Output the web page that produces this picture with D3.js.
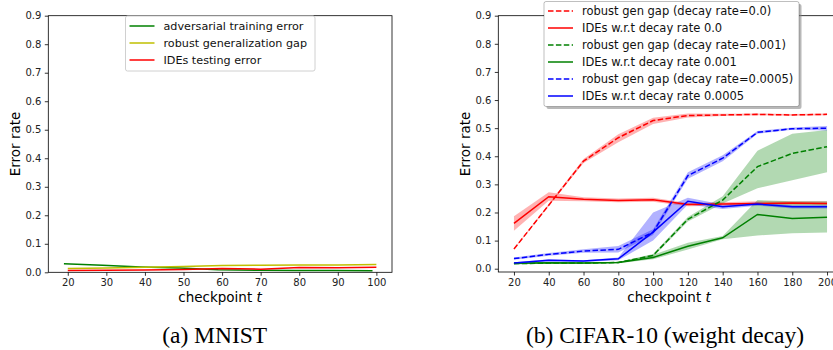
<!DOCTYPE html>
<html>
<head>
<meta charset="utf-8">
<script src="https://cdn.jsdelivr.net/npm/d3@7"></script>
<style>
  body { margin: 0; background: #fff; }
  svg { display: block; }
  .tick text { font-family: "DejaVu Sans", sans-serif; font-size: 10px; fill: #222; }
</style>
</head>
<body>
<svg id="chart" width="833" height="350"></svg>
<script>
// (a) MNIST
const mnistCheckpoints = [20, 30, 40, 50, 60, 70, 80, 90, 100];
const mnistTrainCheckpoints = [19, 29, 39, 49, 59, 69, 79, 89, 99];
const advTrainingError = [0.030, 0.025, 0.019, 0.015, 0.009, 0.007, 0.006, 0.006, 0.005];
const robustGenGap = [0.013, 0.015, 0.018, 0.020, 0.024, 0.025, 0.026, 0.026, 0.027];
const idesTestingError = [0.006, 0.007, 0.008, 0.010, 0.013, 0.011, 0.017, 0.016, 0.018];

// (b) CIFAR-10 weight decay
const cifarCheckpoints = [20, 40, 60, 80, 100, 120, 140, 160, 180, 200];
const gapDecay0 = [0.070, 0.226, 0.383, 0.466, 0.527, 0.545, 0.547, 0.549, 0.547, 0.549];
const gapDecay0Lo = [0.068, 0.222, 0.376, 0.450, 0.515, 0.538, 0.543, 0.546, 0.544, 0.546];
const gapDecay0Hi = [0.072, 0.230, 0.390, 0.478, 0.537, 0.552, 0.551, 0.552, 0.550, 0.552];
const idesDecay0 = [0.161, 0.256, 0.247, 0.243, 0.245, 0.228, 0.230, 0.232, 0.234, 0.232];
const idesDecay0Lo = [0.135, 0.242, 0.240, 0.236, 0.238, 0.222, 0.224, 0.226, 0.228, 0.226];
const idesDecay0Hi = [0.187, 0.272, 0.254, 0.250, 0.252, 0.234, 0.236, 0.240, 0.240, 0.240];
const gapDecay001 = [0.018, 0.020, 0.020, 0.022, 0.047, 0.176, 0.244, 0.363, 0.410, 0.434];
const gapDecay001Lo = [0.016, 0.018, 0.018, 0.020, 0.042, 0.168, 0.232, 0.286, 0.315, 0.343];
const gapDecay001Hi = [0.020, 0.022, 0.022, 0.024, 0.052, 0.184, 0.258, 0.420, 0.480, 0.493];
const idesDecay001 = [0.019, 0.021, 0.020, 0.022, 0.040, 0.080, 0.110, 0.193, 0.179, 0.183];
const idesDecay001Lo = [0.016, 0.018, 0.017, 0.019, 0.034, 0.068, 0.105, 0.118, 0.126, 0.129];
const idesDecay001Hi = [0.022, 0.024, 0.023, 0.025, 0.050, 0.092, 0.116, 0.244, 0.240, 0.240];
const gapDecay0005 = [0.036, 0.051, 0.063, 0.069, 0.130, 0.331, 0.393, 0.485, 0.498, 0.500];
const gapDecay0005Lo = [0.032, 0.046, 0.057, 0.058, 0.120, 0.320, 0.382, 0.480, 0.494, 0.492];
const gapDecay0005Hi = [0.040, 0.056, 0.069, 0.081, 0.140, 0.343, 0.404, 0.490, 0.502, 0.508];
const idesDecay0005 = [0.020, 0.030, 0.027, 0.035, 0.130, 0.240, 0.220, 0.230, 0.220, 0.220];
const idesDecay0005Lo = [0.017, 0.026, 0.024, 0.030, 0.100, 0.228, 0.212, 0.224, 0.214, 0.214];
const idesDecay0005Hi = [0.023, 0.034, 0.030, 0.040, 0.200, 0.252, 0.228, 0.236, 0.226, 0.226];

const yTicks = [0, 0.1, 0.2, 0.3, 0.4, 0.5, 0.6, 0.7, 0.8, 0.9];
const mnistTicks = [20, 30, 40, 50, 60, 70, 80, 90, 100];
const cifarTicks = [20, 40, 60, 80, 100, 120, 140, 160, 180, 200];

const svg = d3.select('#chart');

function drawPanel(opt) {
  const x = d3.scaleLinear().domain(opt.xDomain).range([opt.left, opt.right]);
  const y = d3.scaleLinear().domain(opt.yDomain).range([opt.bottom, opt.top]);
  const g = svg.append('g');

  const clipId = 'clip-' + opt.name;
  g.append('clipPath').attr('id', clipId)
    .append('rect')
    .attr('x', opt.left).attr('y', opt.top)
    .attr('width', opt.right - opt.left).attr('height', opt.bottom - opt.top);
  const plot = g.append('g').attr('clip-path', `url(#${clipId})`);

  const area = d3.area().x((d) => x(d[0])).y0((d) => y(d[1])).y1((d) => y(d[2]));
  const line = d3.line().x((d) => x(d[0])).y((d) => y(d[1]));

  (opt.bands || []).forEach((b) => {
    plot.append('path')
      .datum(b.xs.map((v, i) => [v, b.lo[i], b.hi[i]]))
      .attr('fill', b.color)
      .attr('fill-opacity', 0.3)
      .attr('d', area);
  });

  opt.series.forEach((s) => {
    plot.append('path')
      .datum(s.xs.map((v, i) => [v, s.ys[i]]))
      .attr('fill', 'none')
      .attr('stroke', s.color)
      .attr('stroke-width', 1.5)
      .attr('stroke-dasharray', s.dash ? '5.5,2.4' : null)
      .attr('d', line);
  });

  // axes
  g.append('g')
    .attr('transform', `translate(0,${opt.bottom})`)
    .call(d3.axisBottom(x).tickValues(opt.xTicks).tickSize(3.5).tickPadding(3.5).tickFormat(d3.format('d')))
    .call((a) => a.select('.domain').remove());
  g.append('g')
    .attr('transform', `translate(${opt.left},0)`)
    .call(d3.axisLeft(y).tickValues(yTicks).tickSize(3.5).tickPadding(3.5).tickFormat(d3.format('.1f')))
    .call((a) => a.select('.domain').remove());
  g.selectAll('.tick line').attr('stroke', '#000').attr('stroke-width', 0.8);

  g.append('rect')
    .attr('x', opt.left).attr('y', opt.top)
    .attr('width', opt.right - opt.left).attr('height', opt.bottom - opt.top)
    .attr('fill', 'none').attr('stroke', '#000').attr('stroke-width', 0.8);

  const xl = g.append('text')
    .attr('x', opt.xLabelX).attr('y', 302)
    .attr('text-anchor', 'middle')
    .attr('font-family', 'DejaVu Sans, sans-serif').attr('font-size', 13.5);
  xl.append('tspan').text('checkpoint  ');
  xl.append('tspan').attr('font-style', 'italic').text('t');

  g.append('text')
    .attr('transform', `translate(${opt.yLabelX},144) rotate(-90)`)
    .attr('text-anchor', 'middle')
    .attr('font-family', 'DejaVu Sans, sans-serif').attr('font-size', 13.5)
    .text('Error rate');

  g.append('text')
    .attr('x', opt.captionX).attr('y', 343)
    .attr('text-anchor', 'middle')
    .attr('font-family', 'Liberation Serif, Times New Roman, serif').attr('font-size', 23.5)
    .text(opt.caption);

  // legend
  const lg = g.append('g');
  const L = opt.legend;
  if (L.shadow) {
    lg.append('rect')
      .attr('x', L.x + 2.5).attr('y', L.y + 2.5).attr('width', L.w).attr('height', L.h)
      .attr('rx', 2).attr('fill', '#888').attr('fill-opacity', 0.6);
  }
  lg.append('rect')
    .attr('x', L.x).attr('y', L.y).attr('width', L.w).attr('height', L.h)
    .attr('rx', 2).attr('fill', '#fff').attr('fill-opacity', L.shadow ? 1 : 0.85)
    .attr('stroke', L.shadow ? '#000' : '#d0d0d0').attr('stroke-opacity', L.shadow ? 0.25 : 1).attr('stroke-width', 1);
  opt.series.forEach((s, i) => {
    const yy = L.y + L.first + i * L.step;
    lg.append('line')
      .attr('x1', L.x + 4).attr('x2', L.x + 29).attr('y1', yy).attr('y2', yy)
      .attr('stroke', s.color).attr('stroke-width', 1.5)
      .attr('stroke-dasharray', s.dash ? '5.5,2.4' : null);
    lg.append('text')
      .attr('x', L.x + 38).attr('y', yy).attr('dy', '0.35em')
      .attr('font-family', 'DejaVu Sans, sans-serif').attr('font-size', L.font)
      .attr('fill', '#111')
      .text(s.label);
  });
}

drawPanel({
  name: 'mnist',
  left: 48.3, right: 392, top: 15.7, bottom: 272.3,
  xDomain: [14.95, 104.05], yDomain: [0, 0.9],
  xTicks: mnistTicks,
  xLabelX: 220, yLabelX: 20, captionX: 214.7,
  caption: '(a) MNIST',
  series: [
    { xs: mnistTrainCheckpoints, ys: advTrainingError, color: 'green', label: 'adversarial training error' },
    { xs: mnistCheckpoints, ys: robustGenGap, color: '#bfbf00', label: 'robust generalization gap' },
    { xs: mnistCheckpoints, ys: idesTestingError, color: 'red', label: 'IDEs testing error' }
  ],
  legend: { x: 125.5, y: 16, w: 189.5, h: 55, first: 10, step: 17, shadow: false, font: 11.2 }
});

drawPanel({
  name: 'cifar',
  left: 498.3, right: 842.7, top: 15.7, bottom: 272,
  xDomain: [11, 209], yDomain: [-0.0117, 0.9],
  xTicks: cifarTicks,
  xLabelX: 669, yLabelX: 470, captionX: 665,
  caption: '(b) CIFAR-10 (weight decay)',
  bands: [
    { xs: cifarCheckpoints, lo: gapDecay0Lo, hi: gapDecay0Hi, color: 'red' },
    { xs: cifarCheckpoints, lo: idesDecay0Lo, hi: idesDecay0Hi, color: 'red' },
    { xs: cifarCheckpoints, lo: gapDecay001Lo, hi: gapDecay001Hi, color: 'green' },
    { xs: cifarCheckpoints, lo: idesDecay001Lo, hi: idesDecay001Hi, color: 'green' },
    { xs: cifarCheckpoints, lo: gapDecay0005Lo, hi: gapDecay0005Hi, color: 'blue' },
    { xs: cifarCheckpoints, lo: idesDecay0005Lo, hi: idesDecay0005Hi, color: 'blue' }
  ],
  series: [
    { xs: cifarCheckpoints, ys: gapDecay0, color: 'red', dash: true, label: 'robust gen gap (decay rate=0.0)' },
    { xs: cifarCheckpoints, ys: idesDecay0, color: 'red', label: 'IDEs w.r.t decay rate 0.0' },
    { xs: cifarCheckpoints, ys: gapDecay001, color: 'green', dash: true, label: 'robust gen gap (decay rate=0.001)' },
    { xs: cifarCheckpoints, ys: idesDecay001, color: 'green', label: 'IDEs w.r.t decay rate 0.001' },
    { xs: cifarCheckpoints, ys: gapDecay0005, color: 'blue', dash: true, label: 'robust gen gap (decay rate=0.0005)' },
    { xs: cifarCheckpoints, ys: idesDecay0005, color: 'blue', label: 'IDEs w.r.t decay rate 0.0005' }
  ],
  legend: { x: 544, y: 1.5, w: 255, h: 105, first: 9.5, step: 17, shadow: true, font: 11.5 }
});
</script>
</body>
</html>
